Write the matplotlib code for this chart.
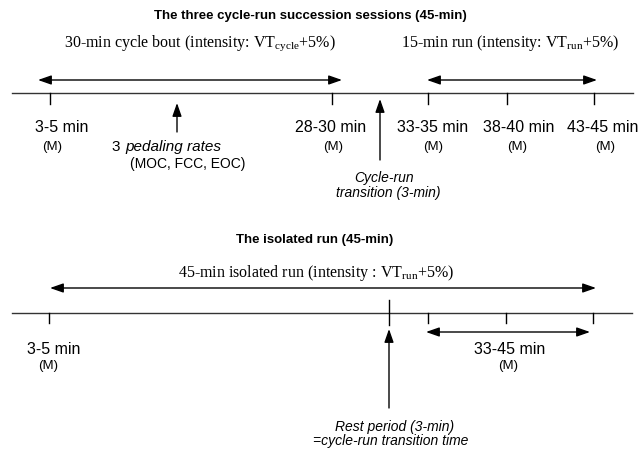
import matplotlib
matplotlib.use('Agg')
import matplotlib.pyplot as plt
from matplotlib.patches import FancyArrowPatch

plt.rcParams['mathtext.fontset'] = 'custom'
plt.rcParams['mathtext.rm'] = 'Liberation Serif'

SANS = 'Liberation Sans'
SERIF = 'Liberation Serif'

# --- session 1 : three cycle-run succession sessions ---
top_title = 'The three cycle-run succession sessions (45-min)'
cycle_text = r'30-min cycle bout (intensity: VT$_{\mathrm{cycle}}$+5%)'
run_text = r'15-min run (intensity: VT$_{\mathrm{run}}$+5%)'
top_marks = ['3-5 min', '28-30 min', '33-35 min', '38-40 min', '43-45 min']
top_mark_x = [50, 332, 428, 507, 594]          # schematic x position of each measure (px)
top_label_x = [62, 331, 433, 519, 603]
top_m_x = [52, 333, 433, 517, 605]

# --- session 2 : isolated run ---
bot_title = 'The isolated run (45-min)'
iso_text = r'45-min isolated run (intensity : VT$_{\mathrm{run}}$+5%)'
bot_ticks_x = [49, 428, 506, 593]
bot_marks = ['3-5 min', '33-45 min']
bot_label_x = [54, 510]
bot_m_x = [48, 508]

fig = plt.figure(figsize=(6.41, 4.49), dpi=100)
ax = fig.add_axes([0, 0, 1, 1])
ax.set_xlim(0, 641)
ax.set_ylim(449, 0)
ax.axis('off')


def arrow(x0, y0, x1, y1, style='<|-|>'):
    a = FancyArrowPatch((x0, y0), (x1, y1),
                        arrowstyle=style + ',head_length=0.8,head_width=0.28',
                        mutation_scale=10, lw=1.0, color='black',
                        shrinkA=0, shrinkB=0)
    ax.add_patch(a)


# top block
ax.text(310, 16, top_title, family=SANS, weight='bold', fontsize=9.5, ha='center', va='center')
ax.text(200, 43, cycle_text, family=SERIF, fontsize=11.5, ha='center', va='center')
ax.text(510, 43, run_text, family=SERIF, fontsize=11.5, ha='center', va='center')
arrow(38, 80, 342, 80)
arrow(427, 80, 597, 80)
ax.plot([12, 633], [93, 93], color='#333333', lw=1.0)
for x in top_mark_x:
    ax.plot([x, x], [93, 104], color='black', lw=1.0)
for lab, lx, mx in zip(top_marks, top_label_x, top_m_x):
    ax.text(lx, 128, lab, family=SANS, fontsize=11.5, ha='center', va='center')
    ax.text(mx, 147, '(M)', family=SANS, fontsize=9.5, ha='center', va='center')

arrow(177, 132, 177, 103, style='-|>')
ax.text(120, 147, '3', family=SANS, fontsize=11, ha='right', va='center')
ax.text(125, 147, 'pedaling rates', family=SANS, style='italic', fontsize=11, ha='left', va='center')
ax.text(188, 164, '(MOC, FCC, EOC)', family=SANS, fontsize=10, ha='center', va='center')

arrow(380, 160, 380, 99, style='-|>')
ax.text(384, 178, 'Cycle-run', family=SANS, style='italic', fontsize=10, ha='center', va='center')
ax.text(388, 193, 'transition (3-min)', family=SANS, style='italic', fontsize=10, ha='center', va='center')

# bottom block
ax.text(315, 240, bot_title, family=SANS, weight='bold', fontsize=9.5, ha='center', va='center')
ax.text(316, 273, iso_text, family=SERIF, fontsize=11.5, ha='center', va='center')
arrow(50, 288, 596, 288)
ax.plot([12, 632], [313, 313], color='#333333', lw=1.0)
for x in bot_ticks_x:
    ax.plot([x, x], [313, 323], color='black', lw=1.0)
ax.plot([389, 389], [300, 325], color='black', lw=1.0)
arrow(389, 408, 389, 329, style='-|>')
arrow(426, 332, 590, 332)
for lab, lx, mx in zip(bot_marks, bot_label_x, bot_m_x):
    ax.text(lx, 349, lab, family=SANS, fontsize=11.5, ha='center', va='center')
    ax.text(mx, 366, '(M)', family=SANS, fontsize=9.5, ha='center', va='center')
ax.text(395, 427, 'Rest period (3-min)', family=SANS, style='italic', fontsize=10, ha='center', va='center')
ax.text(391, 441, '=cycle-run transition time', family=SANS, style='italic', fontsize=10, ha='center', va='center')

fig.savefig('out.png', dpi=100)
